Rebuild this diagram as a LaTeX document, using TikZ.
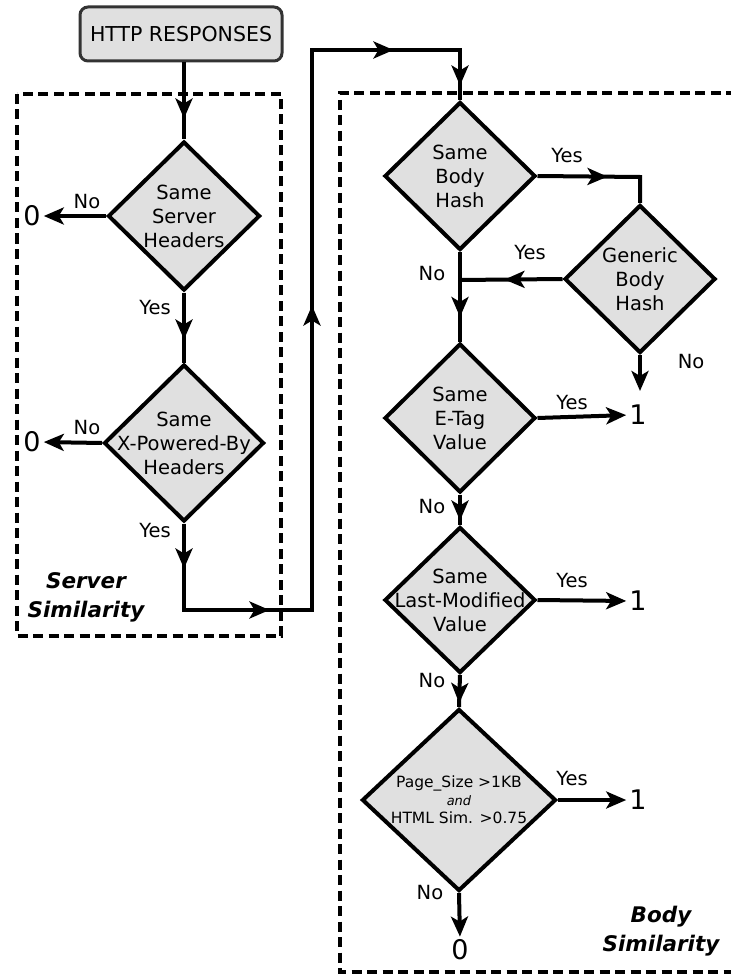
\documentclass[tikz,border=0pt]{standalone}
\usepackage{fontspec}
\setmainfont{DejaVu Sans}
\usetikzlibrary{shapes.geometric,arrows.meta,decorations.markings}

\definecolor{boxgray}{RGB}{224,224,224}
\definecolor{edgegray}{RGB}{51,51,51}

\tikzset{
  flow/.style={line width=4pt},
  tipA/.tip={Stealth[length=20pt,width=17pt,inset=5pt]},
  midarr/.style={postaction={decorate},
    decoration={markings,mark=at position #1 with {\arrow{tipA}}}},
  startbox/.style={draw=edgegray, line width=3pt, fill=boxgray, rounded corners=8pt,
    minimum width=202pt, minimum height=54pt, inner sep=0pt,
    font=\fontsize{20.5}{24}\selectfont},
  dia/.style={diamond, draw, line width=4pt, fill=boxgray, inner sep=0pt},
  dtext/.style={align=center, inner sep=0pt, font=\fontsize{19.5}{24}\selectfont},
  lbl/.style={inner sep=0pt, font=\fontsize{19.5}{22}\selectfont},
  outv/.style={inner sep=0pt, font=\fontsize{27}{28}\selectfont},
  group/.style={draw, line width=4pt, dash pattern=on 10pt off 5.5pt},
  gtitle/.style={align=center, inner sep=0pt, font=\fontsize{21.5}{29}\selectfont\bfseries\itshape}
}

\begin{document}
\begin{tikzpicture}[x=1pt,y=-1pt]
\useasboundingbox (0,0) rectangle (730,976);

% group frames
\draw[group] (17,94) rectangle (281,636);
\draw[group] (736,93) -- (340,93) -- (340,972) -- (736,972);
\node[gtitle] (gserver) at (86,597) {Server\\Similarity};
\node[gtitle] (gbody) at (661,931) {Body\\Similarity};

% source
\node[startbox] (src) at (181,34) {HTTP RESPONSES};

% server similarity decisions
\node[dia, minimum width=152pt, minimum height=149pt] (d1) at (184,216) {};
\node[dtext] (t1) at (d1) {Same\\Server\\Headers};
\node[dia, minimum width=160pt, minimum height=157pt] (d2) at (184,443) {};
\node[dtext] (t2) at (d2) {Same\\X-Powered-By\\Headers};

% body similarity decisions
\node[dia, minimum width=151pt, minimum height=148pt] (d3) at (460,176) {};
\node[dtext] (t3) at (d3) {Same\\Body\\Hash};
\node[dia, minimum width=151pt, minimum height=148pt] (d4) at (640,279) {};
\node[dtext] (t4) at (d4) {Generic\\Body\\Hash};
\node[dia, minimum width=151pt, minimum height=149pt] (d5) at (460,418) {};
\node[dtext] (t5) at (d5) {Same\\E-Tag\\Value};
\node[dia, minimum width=151pt, minimum height=146pt] (d6) at (460,600) {};
\node[dtext] (t6) at (d6) {Same\\Last-Modified\\Value};
\node[dia, minimum width=194pt, minimum height=182pt] (d7) at (459,800) {};
\node[dtext, font=\fontsize{15.5}{18}\selectfont] (t7) at (d7)
  {Page\_Size >1KB\\{\fontsize{13}{18}\selectfont\itshape and}\\HTML Sim. >0.75};

% outcomes
\node[outv] (z1) at (32,216) {0};
\node[outv] (z2) at (32,442) {0};
\node[outv] (o1) at (638,415) {1};
\node[outv] (o2) at (638,601) {1};
\node[outv] (o3) at (638,800) {1};
\node[outv] (z3) at (460,950) {0};
\coordinate (n4) at (640,391);
\coordinate (c1) at (184,610);
\coordinate (c2) at (312,610);
\coordinate (c3) at (312,50);
\coordinate (c4) at (460,50);
\coordinate (c5) at (640,177);
\coordinate (j1) at (460,280);

% connectors
\draw[flow, midarr=56pt] (src.south -| d1.north) -- (d1.north);
\draw[flow, midarr=47pt] (d1.south) -- (d2.north);
\draw[flow, -tipA, shorten >=3pt] (d1.west) -- (z1.east);
\draw[flow, -tipA, shorten >=3pt] (d2.west) -- (z2.east);
\draw[flow, postaction={decorate}, decoration={markings,
    mark=at position 45pt with {\arrow{tipA}},
    mark=at position 172pt with {\arrow{tipA}},
    mark=at position 519pt with {\arrow{tipA}},
    mark=at position 856pt with {\arrow{tipA}},
    mark=at position 958pt with {\arrow{tipA}}}]
  (d2.south) -- (c1) -- (c2) -- (c3) -- (c4) -- (d3.north);
\draw[flow, midarr=70pt] (d3.east) -- (c5) -- (d4.north);
\draw[flow, midarr=58pt] (d4.west) -- (j1);
\draw[flow, midarr=65pt] (d3.south) -- (d5.north);
\draw[flow, -tipA] (d4.south) -- (n4);
\draw[flow, -tipA, shorten >=3pt] (d5.east) -- (o1.west);
\draw[flow, midarr=26pt] (d5.south) -- (d6.north);
\draw[flow, -tipA, shorten >=3pt] (d6.east) -- (o2.west);
\draw[flow, midarr=28pt] (d6.south) -- (d7.north);
\draw[flow, -tipA, shorten >=3pt] (d7.east) -- (o3.west);
\draw[flow, -tipA, shorten >=3pt] (d7.south) -- (z3.north);

% branch labels
\node[lbl] (l1n) at (87,202) {No};
\node[lbl] (l1y) at (155,308) {Yes};
\node[lbl] (l2n) at (87,428) {No};
\node[lbl] (l2y) at (155,531) {Yes};
\node[lbl] (l3y) at (567,156) {Yes};
\node[lbl] (l4y) at (530,253) {Yes};
\node[lbl] (l3n) at (432,274) {No};
\node[lbl] (l4n) at (691,362) {No};
\node[lbl] (l5y) at (572,403) {Yes};
\node[lbl] (l5n) at (432,507) {No};
\node[lbl] (l6y) at (572,581) {Yes};
\node[lbl] (l6n) at (432,681) {No};
\node[lbl] (l7y) at (572,779) {Yes};
\node[lbl] (l7n) at (430,893) {No};
\end{tikzpicture}
\end{document}
